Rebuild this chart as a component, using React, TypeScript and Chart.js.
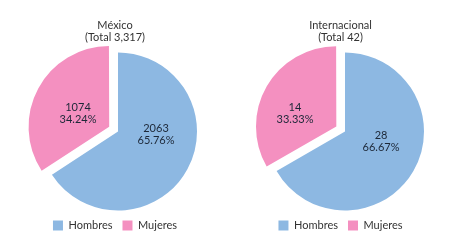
import { useEffect, useRef } from "react";
import { Chart, registerables } from "chart.js";

Chart.register(...registerables);

const categories = ["Hombres", "Mujeres"];
const mexicoValues = [2063, 1074];
const internacionalValues = [28, 14];
const mexicoTitle = ["México", "(Total 3,317)"];
const internacionalTitle = ["Internacional", "(Total 42)"];
const sliceColors = ["#8db8e2", "#f490c0"];

const FONT = "Lato";

const labelPlugin = {
  id: "sliceLabels",
  afterDatasetsDraw(chart: any, _args: any, opts: any) {
    const ctx = chart.ctx;
    const meta = chart.getDatasetMeta(0);
    const data = chart.data.datasets[0].data as number[];
    const total = data.reduce((a, b) => a + b, 0);
    meta.data.forEach((arc: any, i: number) => {
      const p = arc.getProps(["x", "y", "startAngle", "endAngle", "outerRadius"], true);
      const a = (p.startAngle + p.endAngle) / 2 + (opts.shift[i] * Math.PI) / 180;
      const r = p.outerRadius * opts.frac[i];
      const x = p.x + Math.cos(a) * r;
      const y = p.y + Math.sin(a) * r;
      ctx.save();
      ctx.font = `11px ${FONT}`;
      ctx.fillStyle = opts.color;
      ctx.textAlign = "center";
      ctx.textBaseline = "middle";
      ctx.fillText(String(data[i]), x, y - 6);
      ctx.fillText(((data[i] / total) * 100).toFixed(2) + "%", x, y + 6);
      ctx.restore();
    });
  },
};

// Moves the pie's area so that its centre lands at the given point (layout only).
const centerPlugin = {
  id: "pieCenter",
  afterLayout(chart: any, _args: any, opts: any) {
    const a = chart.chartArea;
    const dx = opts.cx - (a.left + a.right) / 2;
    const dy = opts.cy - (a.top + a.bottom) / 2;
    a.left += dx;
    a.right += dx;
    a.top += dy;
    a.bottom += dy;
  },
};

function makeChart(canvas: HTMLCanvasElement, title: string[], values: number[], cfg: any) {
  return new Chart(canvas, {
    type: "pie",
    data: {
      labels: categories,
      datasets: [
        {
          data: values,
          backgroundColor: sliceColors,
          borderWidth: 0,
          offset: [0, 40],
          hoverOffset: 0,
        } as any,
      ],
    },
    options: {
      responsive: false,
      animation: false,
      events: [],
      radius: 79,
      layout: { padding: { bottom: 5 } },
      plugins: {
        tooltip: { enabled: false },
        title: {
          display: true,
          text: title,
          color: "#333",
          font: { family: FONT, size: 11, weight: "normal", lineHeight: 1.05 },
          padding: { top: 20, bottom: 8 },
        },
        legend: {
          position: "bottom",
          labels: {
            boxWidth: 10,
            boxHeight: 10,
            padding: 10,
            color: "#333",
            font: { family: FONT, size: 11 },
          },
        },
        sliceLabels: cfg.labels,
        pieCenter: cfg.center,
      } as any,
    },
    plugins: [labelPlugin, centerPlugin],
  } as any);
}

export default function App() {
  const ref1 = useRef<HTMLCanvasElement>(null);
  const ref2 = useRef<HTMLCanvasElement>(null);

  useEffect(() => {
    const c1 = makeChart(ref1.current!, mexicoTitle, mexicoValues, {
      labels: { shift: [-24.6, -4.2], frac: [0.482, 0.555], color: "#1d2838" },
      center: { cx: 118, cy: 131.5 },
    });
    const c2 = makeChart(ref2.current!, internacionalTitle, internacionalValues, {
      labels: { shift: [-14.5, -9.7], frac: [0.473, 0.675], color: "#1d2838" },
      center: { cx: 118, cy: 131.5 },
    });
    return () => {
      c1.destroy();
      c2.destroy();
    };
  }, []);

  return (
    <div style={{ position: "fixed", left: 0, top: 0, width: 454, height: 246, background: "#fff" }}>
      <canvas ref={ref1} width={230} height={246} style={{ position: "absolute", left: 0, top: 0, width: 230, height: 246 }} />
      <canvas ref={ref2} width={227} height={246} style={{ position: "absolute", left: 227, top: 0, width: 227, height: 246 }} />
    </div>
  );
}
